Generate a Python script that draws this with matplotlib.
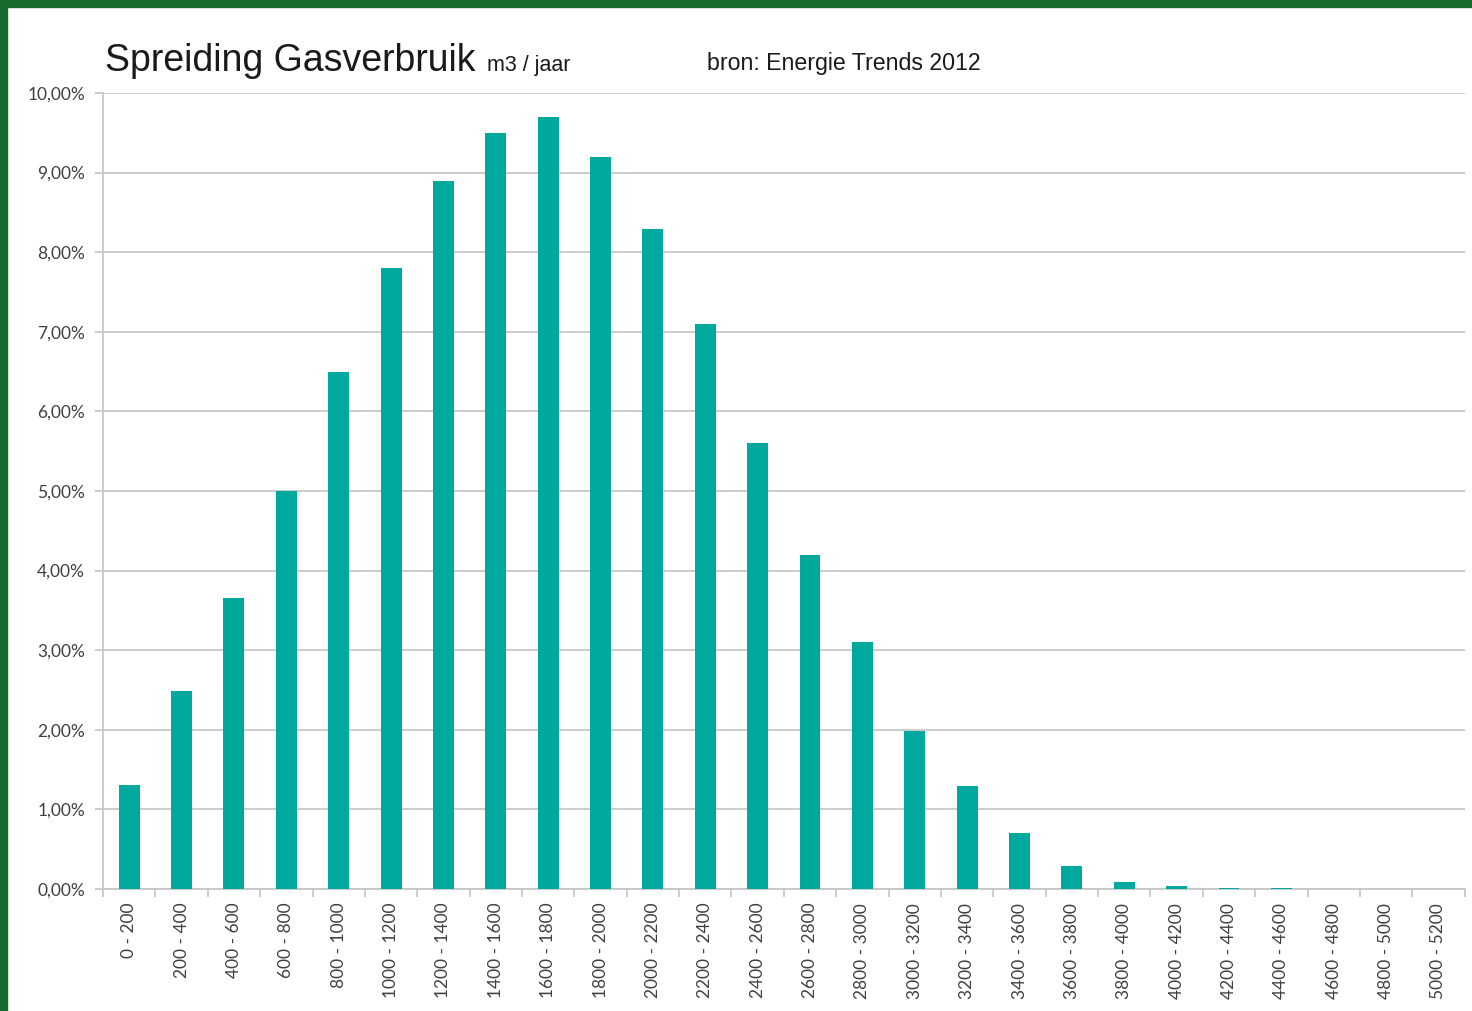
#!/usr/bin/env python3
import matplotlib
matplotlib.use("Agg")
import matplotlib.pyplot as plt
from matplotlib.patches import Rectangle
from matplotlib.ticker import FuncFormatter
import numpy as np

# verbruiksklassen m3/jaar
categories = ["0 - 200", "200 - 400", "400 - 600", "600 - 800", "800 - 1000",
              "1000 - 1200", "1200 - 1400", "1400 - 1600", "1600 - 1800",
              "1800 - 2000", "2000 - 2200", "2200 - 2400", "2400 - 2600",
              "2600 - 2800", "2800 - 3000", "3000 - 3200", "3200 - 3400",
              "3400 - 3600", "3600 - 3800", "3800 - 4000", "4000 - 4200",
              "4200 - 4400", "4400 - 4600", "4600 - 4800", "4800 - 5000",
              "5000 - 5200"]
share = [1.31, 2.49, 3.66, 5.0, 6.5, 7.8, 8.9, 9.5, 9.7, 9.2, 8.29, 7.1, 5.6,
         4.2, 3.1, 1.98, 1.29, 0.70, 0.29, 0.09, 0.04, 0.015, 0.015, 0.0, 0.0, 0.0]
y_ticks = [0, 1, 2, 3, 4, 5, 6, 7, 8, 9, 10]

bar_color = "#00a99d"
grid_color = "#c4c4c4"
text_color = "#404040"

fig = plt.figure(figsize=(14.72, 10.11), dpi=100)
fig.patch.set_facecolor("white")

# groene rand boven en links
fig.patches.append(Rectangle((0, 1 - 7 / 1011), 1, 7 / 1011, transform=fig.transFigure,
                             color="#176b2c", zorder=10))
fig.patches.append(Rectangle((0, 0), 7 / 1472, 1, transform=fig.transFigure,
                             color="#176b2c", zorder=10))

ax = fig.add_axes([0.070, 0.1207, 0.925, 0.7873])
x = np.arange(len(categories))
ax.bar(x, share, width=0.4, color=bar_color, zorder=3)

ax.set_xlim(-0.5, len(categories) - 0.5)
ax.set_ylim(0, 10)
ax.set_yticks(y_ticks)
ax.yaxis.set_major_formatter(FuncFormatter(lambda v, p: f"{v:.2f}%".replace(".", ",")))
ax.grid(axis="y", color=grid_color, linewidth=1.2, zorder=0)

ax.set_xticks(x)
ax.set_xticklabels(categories, rotation=90, family="Lato", fontsize=12.5, color=text_color)
ax.set_xticks(np.arange(len(categories) + 1) - 0.5, minor=True)
ax.tick_params(axis="x", which="major", length=0, pad=10)
ax.tick_params(axis="x", which="minor", length=6, color=grid_color, width=1.2)
ax.tick_params(axis="y", length=6, color=grid_color, width=1.2, pad=7,
               labelsize=12.5, labelcolor=text_color)
for lab in ax.get_yticklabels():
    lab.set_family("Lato")

for side in ["top", "right"]:
    ax.spines[side].set_visible(False)
for side in ["left", "bottom"]:
    ax.spines[side].set_color(grid_color)
    ax.spines[side].set_linewidth(1.2)

fig.text(0.071, 0.930, "Spreiding Gasverbruik", family="Liberation Sans",
         fontsize=27, color="#1a1a1a")
fig.text(0.331, 0.930, "m3 / jaar", family="Liberation Sans", fontsize=15.5, color="#1a1a1a")
fig.text(0.480, 0.931, "bron: Energie Trends 2012", family="Liberation Sans",
         fontsize=16.7, color="#1a1a1a")

fig.savefig("out.png", dpi=100)
